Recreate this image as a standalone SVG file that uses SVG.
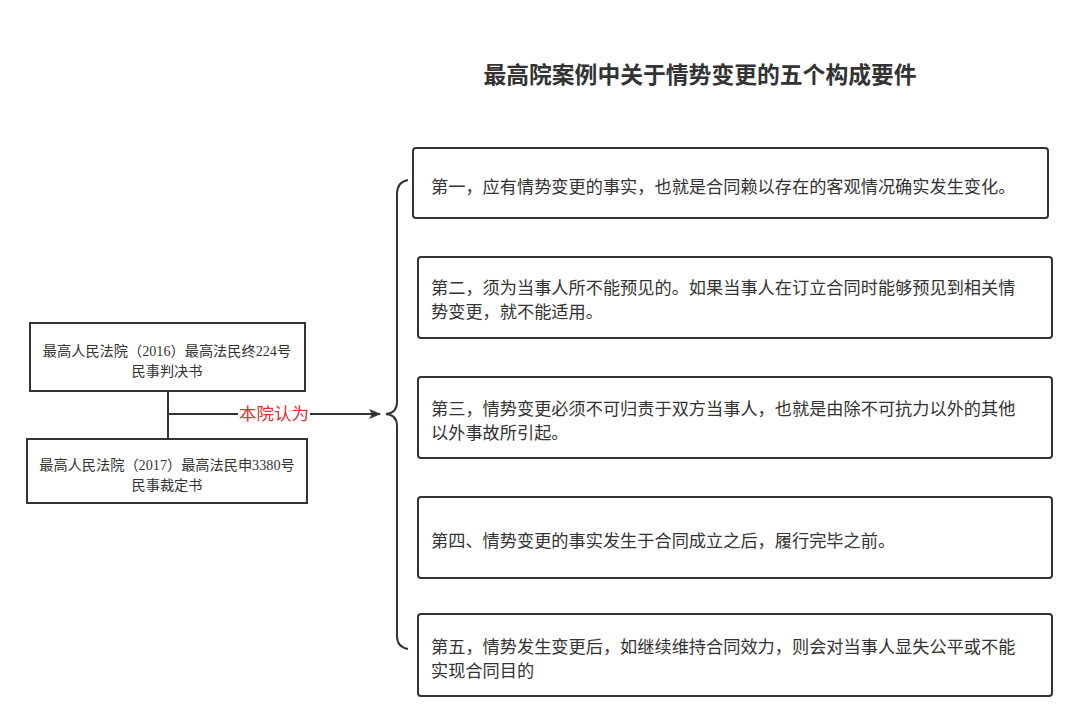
<svg xmlns="http://www.w3.org/2000/svg" width="1080" height="725" viewBox="0 0 1080 725">
<style>
.box{fill:#fff;stroke:#333;stroke-width:2}
.t{font-family:"Liberation Serif","Noto Sans CJK SC",serif;fill:#333}
.bt{font-size:17.2px}
.lt{font-size:14.2px;text-anchor:middle}
.ln{fill:none;stroke:#333;stroke-width:2}
</style>
<defs>
<marker id="ah" markerWidth="12" markerHeight="10" refX="11" refY="5" orient="auto" markerUnits="userSpaceOnUse">
<path d="M0,0 L12,5 L0,10 L3,5 Z" fill="#333"/>
</marker>
</defs>
<rect width="1080" height="725" fill="#fff"/>
<text class="t" x="700" y="83" font-size="22.8" font-weight="bold" text-anchor="middle">最高院案例中关于情势变更的五个构成要件</text>
<g id="connectors">
<path class="ln" d="M168,391 V439"/>
<path class="ln" d="M168,414 H238"/>
<path class="ln" d="M310,414 H380" marker-end="url(#ah)"/>
<text class="t" x="274" y="420" font-size="17.5" text-anchor="middle" style="fill:#e03030">本院认为</text>
<path class="ln" d="M408,180 Q397,182 397,194 V402 Q397,413 386,414 Q397,415 397,426 V636 Q397,647 408,649"/>
</g>
<g id="src1"><rect class="box" x="30" y="323" width="275" height="68"/>
<text class="t lt" x="167" y="356">最高人民法院（2016）最高法民终224号</text>
<text class="t lt" x="167" y="376">民事判决书</text></g>
<g id="src2"><rect class="box" x="27" y="439" width="280" height="64"/>
<text class="t lt" x="167" y="470">最高人民法院（2017）最高法民申3380号</text>
<text class="t lt" x="167" y="490">民事裁定书</text></g>
<g id="item1"><rect class="box" x="413" y="148" width="635" height="70" rx="3"/>
<text class="t bt" x="431" y="193">第一，应有情势变更的事实，也就是合同赖以存在的客观情况确实发生变化。</text></g>
<g id="item2"><rect class="box" x="418" y="257" width="634" height="81" rx="3"/>
<text class="t bt" x="431" y="294">第二，须为当事人所不能预见的。如果当事人在订立合同时能够预见到相关情</text>
<text class="t bt" x="431" y="318">势变更，就不能适用。</text></g>
<g id="item3"><rect class="box" x="418" y="377" width="634" height="81" rx="3"/>
<text class="t bt" x="431" y="415">第三，情势变更必须不可归责于双方当事人，也就是由除不可抗力以外的其他</text>
<text class="t bt" x="431" y="439">以外事故所引起。</text></g>
<g id="item4"><rect class="box" x="418" y="497" width="634" height="81" rx="3"/>
<text class="t bt" x="431" y="547">第四、情势变更的事实发生于合同成立之后，履行完毕之前。</text></g>
<g id="item5"><rect class="box" x="418" y="614" width="634" height="82" rx="3"/>
<text class="t bt" x="431" y="653">第五，情势发生变更后，如继续维持合同效力，则会对当事人显失公平或不能</text>
<text class="t bt" x="431" y="677">实现合同目的</text></g>
</svg>
